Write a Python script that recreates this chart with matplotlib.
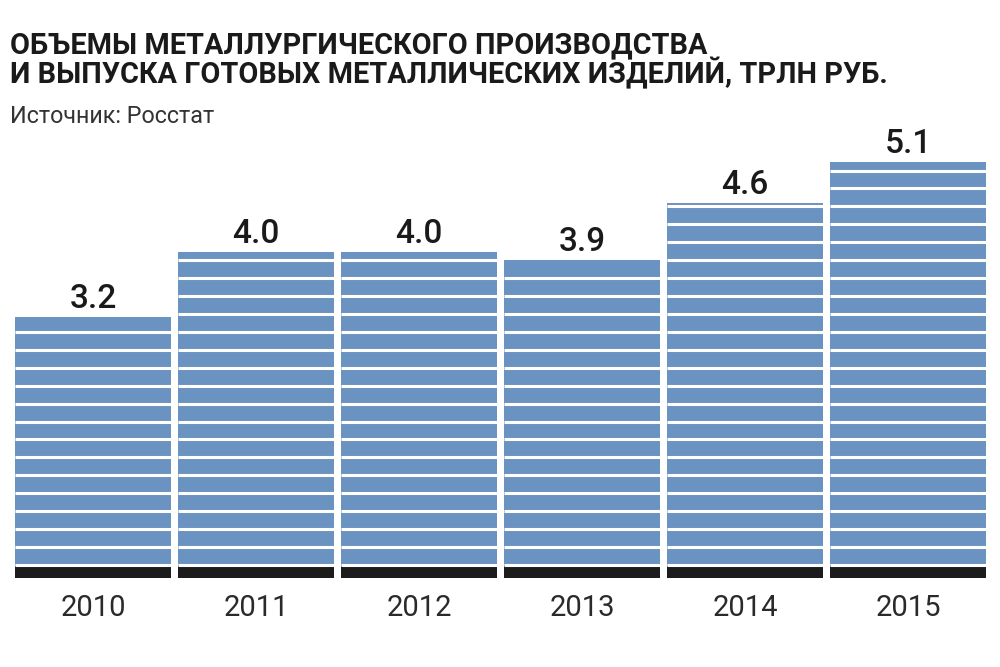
import numpy as np
import matplotlib.pyplot as plt

# data
years = ['2010', '2011', '2012', '2013', '2014', '2015']
values = [3.2, 4.0, 4.0, 3.9, 4.6, 5.1]
labels = ['3.2', '4.0', '4.0', '3.9', '4.6', '5.1']

title_lines = ['ОБЪЕМЫ МЕТАЛЛУРГИЧЕСКОГО ПРОИЗВОДСТВА',
               'И ВЫПУСКА ГОТОВЫХ МЕТАЛЛИЧЕСКИХ ИЗДЕЛИЙ, ТРЛН РУБ.']
source = 'Источник: Росстат'

plt.rcParams['font.family'] = ['Roboto', 'DejaVu Sans']

blue = '#6b93c2'
black = '#1c1c1c'
stripe_step = 0.22
stripe_start = 0.16
base_h = 0.147
w = 0.957

fig = plt.figure(figsize=(10, 6.67), dpi=100)
ax = fig.add_axes([0.015, 1 - 578 / 667, 0.971, 6 * 81.5 / 667])
x = np.arange(len(years))

ax.bar(x, values, width=w, color=blue, linewidth=0)
ax.bar(x, [base_h] * len(x), width=w, color=black, linewidth=0)

# white gaps between stripes
for xi, v in zip(x, values):
    gaps = np.arange(stripe_start, v, stripe_step)
    ax.hlines(gaps, xi - w / 2, xi + w / 2, color='white', lw=2.2)
    
for xi, v, lab in zip(x, values, labels):
    ax.text(xi, v + 0.11, lab, ha='center', va='baseline', fontsize=24,
            fontweight='medium', color='#1a1a1a')

for xi, yr in zip(x, years):
    ax.text(xi, -0.2, yr, ha='center', va='top', fontsize=21,
            fontweight='normal', color='#2a2a2a')

ax.set_xlim(-w / 2, len(x) - 1 + w / 2)
ax.set_ylim(0, 6)
ax.axis('off')

fig.text(0.01, 1 - 53 / 667, title_lines[0], fontsize=20.8, fontweight='bold',
         color='#1a1a1a', va='baseline')
fig.text(0.01, 1 - 83 / 667, title_lines[1], fontsize=20.8, fontweight='bold',
         color='#1a1a1a', va='baseline')
fig.text(0.01, 1 - 123 / 667, source, fontsize=16.8,
         color='#333333', va='baseline')

fig.savefig('out.png', dpi=100)
